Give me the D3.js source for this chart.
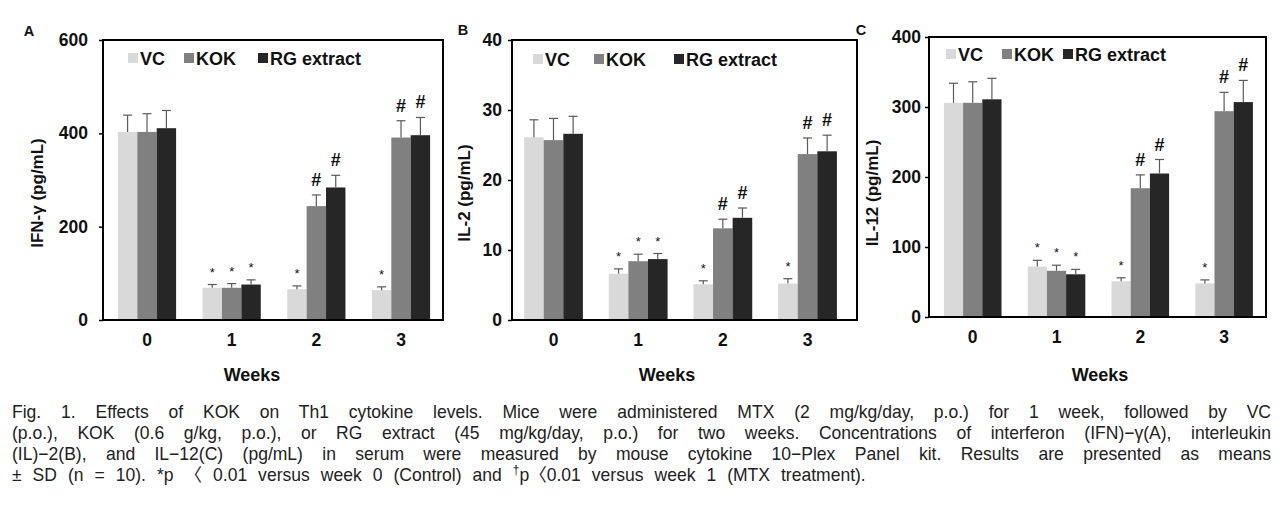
<!DOCTYPE html>
<html>
<head>
<meta charset="utf-8">
<script src="https://cdn.jsdelivr.net/npm/d3@7"></script>
<style>
  html, body { margin: 0; padding: 0; background: #fff; }
  svg { display: block; }
</style>
</head>
<body>
<svg id="chart" width="1288" height="511"></svg>
<script>
// ---------- data ----------
const categories = ["0", "1", "2", "3"];
const seriesNames = ["VC", "KOK", "RG extract"];
const seriesColors = ["#d9d9d9", "#808080", "#262626"];

const ifnVC = [403, 69, 66, 64];
const ifnVCErr = [36, 7, 7, 7];
const ifnKOK = [403, 69, 244, 391];
const ifnKOKErr = [39, 9, 24, 36];
const ifnRG = [411, 76, 284, 396];
const ifnRGErr = [38, 10, 26, 38];
const ifnTicks = [0, 200, 400, 600];

const il2VC = [26.1, 6.6, 5.1, 5.2];
const il2VCErr = [2.5, 0.7, 0.5, 0.7];
const il2KOK = [25.7, 8.4, 13.1, 23.7];
const il2KOKErr = [3.1, 1.0, 1.3, 2.3];
const il2RG = [26.6, 8.7, 14.6, 24.1];
const il2RGErr = [2.5, 0.8, 1.4, 2.3];
const il2Ticks = [0, 10, 20, 30, 40];

const il12VC = [306, 72, 51, 48];
const il12VCErr = [28, 9, 5, 5];
const il12KOK = [306, 66, 184, 294];
const il12KOKErr = [30, 8, 19, 27];
const il12RG = [311, 61, 205, 307];
const il12RGErr = [30, 7, 20, 31];
const il12Ticks = [0, 100, 200, 300, 400];

const vcMarks = ["", "*", "*", "*"];
const kokMarks = ["", "*", "#", "#"];
const rgMarks = ["", "*", "#", "#"];

const captionLines = [
  "Fig. 1. Effects of KOK on Th1 cytokine levels. Mice were administered MTX (2 mg/kg/day, p.o.) for 1 week, followed by VC",
  "(p.o.), KOK (0.6 g/kg, p.o.), or RG extract (45 mg/kg/day, p.o.) for two weeks. Concentrations of interferon (IFN)−γ(A), interleukin",
  "(IL)−2(B), and IL−12(C) (pg/mL) in serum were measured by mouse cytokine 10−Plex Panel kit. Results are presented as means"
];
const captionLast = ["± SD (n = 10). *p 〈 0.01 versus week 0 (Control) and ", "†", "p〈0.01 versus week 1 (MTX treatment)."];

// ---------- layout ----------
const panels = [
  { letter: "A", title: "IFN-γ (pg/mL)", max: 600, ticks: ifnTicks,
    series: [[ifnVC, ifnVCErr, vcMarks], [ifnKOK, ifnKOKErr, kokMarks], [ifnRG, ifnRGErr, rgMarks]],
    fx0: 103, fx1: 443, fy0: 40, fy1: 320, c0: 147, step: 84.67, bw: 19.4,
    tickPad: 15, letterX: 29, letterY: 31, titleX: 37, weeksX: 252,
    legendX: [128, 184, 258], legendY: 58 },
  { letter: "B", title: "IL-2 (pg/mL)", max: 40, ticks: il2Ticks,
    series: [[il2VC, il2VCErr, vcMarks], [il2KOK, il2KOKErr, kokMarks], [il2RG, il2RGErr, rgMarks]],
    fx0: 512, fx1: 857, fy0: 40, fy1: 320, c0: 553.5, step: 84.67, bw: 19.6,
    tickPad: 10, letterX: 463, letterY: 30, titleX: 464, weeksX: 667,
    legendX: [533, 594, 674], legendY: 59 },
  { letter: "C", title: "IL-12 (pg/mL)", max: 400, ticks: il12Ticks,
    series: [[il12VC, il12VCErr, vcMarks], [il12KOK, il12KOKErr, kokMarks], [il12RG, il12RGErr, rgMarks]],
    fx0: 929, fx1: 1266, fy0: 37, fy1: 317, c0: 972.7, step: 83.8, bw: 19.2,
    tickPad: 8, letterX: 861, letterY: 30, titleX: 872, weeksX: 1100,
    legendX: [946, 1002, 1063], legendY: 54 }
];

const svg = d3.select("#chart");
const FONT = "'Liberation Sans', Arial, sans-serif";

panels.forEach(p => {
  const g = svg.append("g");
  const y = d3.scaleLinear().domain([0, p.max]).range([p.fy1, p.fy0]);
  const x = d3.scaleBand().domain(categories)
    .range([p.c0 - p.step / 2, p.c0 + p.step * (categories.length - 0.5)])
    .paddingInner(1 - (3 * p.bw) / p.step).paddingOuter((1 - (3 * p.bw) / p.step) / 2);
  const xs = d3.scaleBand().domain(seriesNames).range([0, x.bandwidth()]);

  // bars
  p.series.forEach((s, si) => {
    const [vals, errs, marks] = s;
    const data = categories.map((c, i) => ({ c, v: vals[i], e: errs[i], m: marks[i] }));
    const sg = g.append("g");
    sg.selectAll("rect").data(data).join("rect")
      .attr("x", d => x(d.c) + xs(seriesNames[si]))
      .attr("y", d => y(d.v))
      .attr("width", xs.bandwidth())
      .attr("height", d => y(0) - y(d.v))
      .attr("fill", seriesColors[si]);
    // error bars
    const cx = d => x(d.c) + xs(seriesNames[si]) + xs.bandwidth() / 2;
    sg.selectAll("line.err").data(data).join("line").attr("class", "err")
      .attr("x1", cx).attr("x2", cx)
      .attr("y1", d => y(d.v)).attr("y2", d => y(d.v + d.e))
      .attr("stroke", "#5a5a5a").attr("stroke-width", 1.2);
    sg.selectAll("line.cap").data(data).join("line").attr("class", "cap")
      .attr("x1", d => cx(d) - 4.5).attr("x2", d => cx(d) + 4.5)
      .attr("y1", d => y(d.v + d.e)).attr("y2", d => y(d.v + d.e))
      .attr("stroke", "#5a5a5a").attr("stroke-width", 1.2);
    // significance marks
    sg.selectAll("text.mark").data(data.filter(d => d.m)).join("text").attr("class", "mark")
      .attr("x", cx)
      .attr("y", d => y(d.v + d.e) - (d.m === "#" ? 9 : 8))
      .attr("text-anchor", "middle")
      .attr("font-family", FONT)
      .attr("font-weight", d => d.m === "#" ? "bold" : "normal")
      .attr("font-size", d => d.m === "#" ? 18 : 13)
      .attr("fill", "#111")
      .text(d => d.m);
  });

  // y axis
  const yAxis = d3.axisLeft(y).tickValues(p.ticks).tickSize(4).tickPadding(p.tickPad - 4).tickFormat(d3.format("d"));
  const ya = g.append("g").attr("transform", `translate(${p.fx0},0)`).call(yAxis);
  ya.select(".domain").remove();
  ya.selectAll(".tick line").attr("stroke", "#000").attr("stroke-width", 1.5);
  ya.selectAll(".tick text").attr("font-family", FONT).attr("font-weight", "bold")
    .attr("font-size", 17.5).attr("fill", "#111");

  // x axis labels
  const xAxis = d3.axisBottom(x).tickSize(0).tickPadding(14);
  const xa = g.append("g").attr("transform", `translate(0,${p.fy1})`).call(xAxis);
  xa.select(".domain").remove();
  xa.selectAll(".tick text").attr("font-family", FONT).attr("font-weight", "bold")
    .attr("font-size", 17.5).attr("fill", "#111");

  // frame
  g.append("rect").attr("x", p.fx0).attr("y", p.fy0)
    .attr("width", p.fx1 - p.fx0).attr("height", p.fy1 - p.fy0)
    .attr("fill", "none").attr("stroke", "#000").attr("stroke-width", 2);

  // titles
  g.append("text").attr("x", p.weeksX).attr("y", 381).attr("text-anchor", "middle")
    .attr("font-family", FONT).attr("font-weight", "bold").attr("font-size", 18).attr("fill", "#111")
    .text("Weeks");
  g.append("text").attr("transform", `translate(${p.titleX + 6},193) rotate(-90)`)
    .attr("text-anchor", "middle")
    .attr("font-family", FONT).attr("font-weight", "bold").attr("font-size", 17).attr("fill", "#111")
    .text(p.title);
  g.append("text").attr("x", p.letterX).attr("y", p.letterY + 5).attr("text-anchor", "middle")
    .attr("font-family", FONT).attr("font-weight", "bold").attr("font-size", 14.5).attr("fill", "#111")
    .text(p.letter);

  // legend
  seriesNames.forEach((n, i) => {
    g.append("rect").attr("x", p.legendX[i]).attr("y", p.legendY - 5).attr("width", 10).attr("height", 10)
      .attr("fill", seriesColors[i]);
    g.append("text").attr("x", p.legendX[i] + 12).attr("y", p.legendY + 6.5)
      .attr("font-family", FONT).attr("font-weight", "bold").attr("font-size", 18).attr("fill", "#111")
      .text(n);
  });
});

// ---------- caption ----------
const CAPFONT = "'Liberation Sans', 'Noto Sans CJK KR', sans-serif";
const capX = 12, capRight = 1271, lastNatural = 756, lastRight = 866, fs = 18;

const last = svg.append("text").attr("x", 0).attr("y", 0)
  .attr("font-family", CAPFONT).attr("font-size", fs).attr("fill", "#222");
last.append("tspan").text(captionLast[0]);
last.append("tspan").attr("font-size", fs * 0.68).attr("dy", -fs * 0.4).text(captionLast[1]);
last.append("tspan").attr("dy", fs * 0.4).text(captionLast[2]);
const wLast = last.node().getComputedTextLength();
const sx = Math.min(1, (lastNatural - capX) / wLast);
const lastGaps = captionLast.join("").split(" ").length - 1;
last.attr("transform", `translate(${capX},481) scale(${sx},1)`)
  .style("word-spacing", (((lastRight - capX) / sx - wLast) / lastGaps) + "px");

captionLines.forEach((line, i) => {
  const t = svg.append("text").attr("x", 0).attr("y", 0)
    .attr("transform", `translate(${capX},${418 + i * 21}) scale(${sx},1)`)
    .attr("font-family", CAPFONT).attr("font-size", fs).attr("fill", "#222")
    .text(line);
  const w = t.node().getComputedTextLength();
  const gaps = line.split(" ").length - 1;
  const extra = ((capRight - capX) / sx - w) / gaps;
  t.style("word-spacing", extra + "px");
});
</script>
</body>
</html>
